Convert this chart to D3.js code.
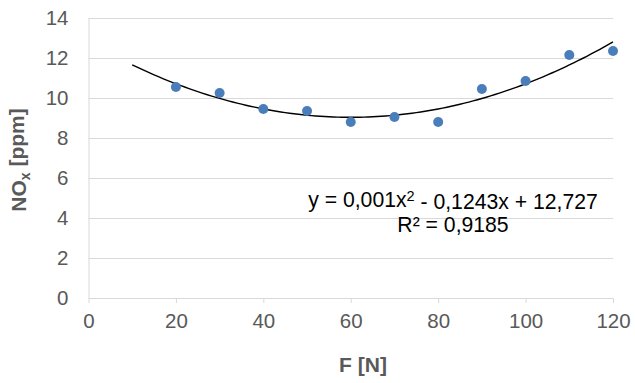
<!DOCTYPE html>
<html lang="en">
  <head>
    <meta charset="UTF-8" />
    <title>NOx vs F</title>
    <script src="https://d3js.org/d3.v7.min.js"></script>
    <style>
      body {
        margin: 0;
        background: #fff;
        font-family: "Liberation Sans", Arial, sans-serif;
      }
      svg {
        display: block;
      }
      .tick text {
        fill: #595959;
        font-size: 20.5px;
      }
      .axis-title {
        fill: #595959;
        font-size: 21px;
        font-weight: bold;
      }
      .eq {
        fill: #000;
        font-size: 21.2px;
      }
    </style>
  </head>
  <body>
    <svg width="635" height="383"></svg>
    <script>
      // Data
      const forces = [20, 30, 40, 50, 60, 70, 80, 90, 100, 110, 120];
      const noxValues = [10.55, 10.25, 9.45, 9.35, 8.8, 9.05, 8.8, 10.45, 10.85, 12.15, 12.35];
      const xTicks = [0, 20, 40, 60, 80, 100, 120];
      const yTicks = [0, 2, 4, 6, 8, 10, 12, 14];
      const trendRange = [10, 120];
      const eqLine1 = "y = 0,001x";
      const eqLine1b = " - 0,1243x + 12,727";
      const eqLine2 = "R² = 0,9185";

      const points = forces.map((f, i) => ({ x: f, y: noxValues[i] }));

      const svg = d3.select("svg"),
        margin = { top: 18, right: 22, bottom: 85, left: 88.5 },
        width = +svg.attr("width") - margin.left - margin.right,
        height = +svg.attr("height") - margin.top - margin.bottom;

      const g = svg
        .append("g")
        .attr("transform", `translate(${margin.left},${margin.top})`);

      const x = d3.scaleLinear().domain([0, 120]).range([0, width]);
      const y = d3.scaleLinear().domain([0, 14]).range([height, 0]);

      // Horizontal gridlines
      g.append("g")
        .selectAll("line")
        .data(yTicks.filter((d) => d > 0))
        .enter()
        .append("line")
        .attr("x1", 0)
        .attr("x2", width)
        .attr("y1", (d) => Math.round(y(d)) + 0.5)
        .attr("y2", (d) => Math.round(y(d)) + 0.5)
        .attr("stroke", "#d9d9d9")
        .attr("stroke-width", 1);

      // Y axis
      const yAxis = g
        .append("g")
        .call(d3.axisLeft(y).tickValues(yTicks).tickSize(0).tickPadding(20));
      yAxis.select(".domain").attr("stroke", "#d9d9d9");

      // X axis
      const xAxis = g
        .append("g")
        .attr("transform", `translate(0,${height})`)
        .call(d3.axisBottom(x).tickValues(xTicks).tickSize(5).tickSizeOuter(0).tickPadding(8));
      xAxis.select(".domain").attr("stroke", "#d9d9d9");
      xAxis.selectAll(".tick line").attr("stroke", "#d9d9d9");
      xAxis.selectAll(".tick text").attr("dy", "0.85em");

      // Quadratic least-squares fit for the trendline
      function fitQuadratic(pts) {
        let s = [0, 0, 0, 0, 0], t = [0, 0, 0];
        pts.forEach((p) => {
          for (let k = 0; k < 5; k++) s[k] += Math.pow(p.x, k);
          for (let k = 0; k < 3; k++) t[k] += p.y * Math.pow(p.x, k);
        });
        const A = [
          [s[0], s[1], s[2], t[0]],
          [s[1], s[2], s[3], t[1]],
          [s[2], s[3], s[4], t[2]],
        ];
        for (let i = 0; i < 3; i++) {
          for (let j = i + 1; j < 3; j++) {
            const f = A[j][i] / A[i][i];
            for (let k = i; k < 4; k++) A[j][k] -= f * A[i][k];
          }
        }
        const c = [0, 0, 0];
        for (let i = 2; i >= 0; i--) {
          let v = A[i][3];
          for (let k = i + 1; k < 3; k++) v -= A[i][k] * c[k];
          c[i] = v / A[i][i];
        }
        return c; // c0 + c1 x + c2 x^2
      }
      const c = fitQuadratic(points);
      const trend = d3.range(trendRange[0], trendRange[1] + 0.5, 1).map((v) => ({
        x: v,
        y: c[0] + c[1] * v + c[2] * v * v,
      }));

      g.append("path")
        .datum(trend)
        .attr("fill", "none")
        .attr("stroke", "#000")
        .attr("stroke-width", 1.4)
        .attr("d", d3.line().x((d) => x(d.x)).y((d) => y(d.y)));

      // Markers
      g.selectAll(".pt")
        .data(points)
        .enter()
        .append("circle")
        .attr("class", "pt")
        .attr("cx", (d) => x(d.x))
        .attr("cy", (d) => y(d.y))
        .attr("r", 5)
        .attr("fill", "#4a7ebb");

      // Trendline equation
      const eq = svg
        .append("text")
        .attr("class", "eq")
        .attr("x", 453)
        .attr("y", 206.5)
        .attr("text-anchor", "middle");
      eq.append("tspan").text(eqLine1);
      eq.append("tspan").attr("dy", "-0.4em").attr("font-size", "14.5px").text("2");
      eq.append("tspan").attr("dy", "0.4em").text(eqLine1b);

      svg
        .append("text")
        .attr("class", "eq")
        .attr("x", 453)
        .attr("y", 232)
        .attr("text-anchor", "middle")
        .text(eqLine2);

      // X axis title
      svg
        .append("text")
        .attr("class", "axis-title")
        .attr("x", 363)
        .attr("y", 372)
        .attr("text-anchor", "middle")
        .text("F [N]");

      // Y axis title
      const yt = svg
        .append("text")
        .attr("class", "axis-title")
        .attr("transform", `translate(26,160) rotate(-90)`)
        .attr("text-anchor", "middle");
      yt.append("tspan").text("NO");
      yt.append("tspan").attr("font-size", "14px").attr("dy", "0.3em").text("x");
      yt.append("tspan").attr("dy", "-0.3em").text(" [ppm]");
    </script>
  </body>
</html>
